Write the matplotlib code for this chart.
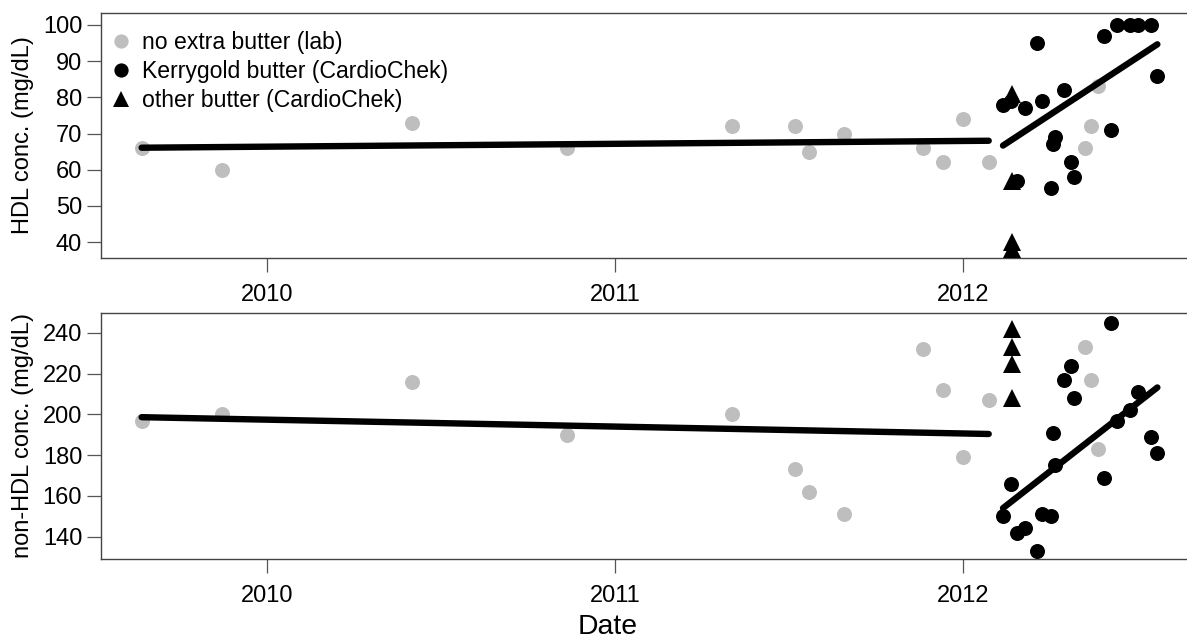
import numpy as np
import matplotlib
matplotlib.use('Agg')
import matplotlib.pyplot as plt
import matplotlib.dates as mdates

plt.rcParams['font.family'] = ['Liberation Sans', 'DejaVu Sans']

# Lab measurements (no extra butter)
lab_dates = ['2009-08-22', '2009-11-14', '2010-06-02', '2010-11-11', '2011-05-04',
             '2011-07-09', '2011-07-23', '2011-08-29', '2011-11-20', '2011-12-11',
             '2012-01-01', '2012-01-28', '2012-05-08', '2012-05-14', '2012-05-22']
lab_hdl = [66, 60, 73, 66, 72, 72, 65, 70, 66, 62, 74, 62, 66, 72, 83]
lab_nonhdl = [197, 200, 216, 190, 200, 173, 162, 151, 232, 212, 179, 207, 233, 217, 183]

# Kerrygold butter (CardioChek)
kerry_dates = ['2012-02-12', '2012-02-20', '2012-02-27', '2012-03-06', '2012-03-19',
               '2012-03-24', '2012-04-02', '2012-04-04', '2012-04-07', '2012-04-16',
               '2012-04-23', '2012-04-26', '2012-05-28', '2012-06-04', '2012-06-11',
               '2012-06-24', '2012-07-03', '2012-07-16', '2012-07-23']
kerry_hdl = [78, 79, 57, 77, 95, 79, 55, 67, 69, 82, 62, 58, 97, 71, 100, 100, 100, 100, 86]
kerry_nonhdl = [150, 166, 142, 144, 133, 151, 150, 191, 175, 217, 224, 208, 169, 245,
                197, 202, 211, 189, 181]

# other butter (CardioChek)
other_dates = ['2012-02-21', '2012-02-21', '2012-02-21', '2012-02-21']
other_hdl = [81, 57, 40, 38]
other_nonhdl = [242, 233, 225, 208]

lab_x = mdates.date2num(np.array(lab_dates, dtype='datetime64[D]'))
kerry_x = mdates.date2num(np.array(kerry_dates, dtype='datetime64[D]'))
other_x = mdates.date2num(np.array(other_dates, dtype='datetime64[D]'))

# baseline = lab values before the butter period
base = lab_x < kerry_x.min()

grey = '#bebebe'
W, H = 1187, 641
fig = plt.figure(figsize=(W / 100, H / 100), dpi=100)
ax1 = fig.add_axes([101 / W, 1 - 258 / H, 1097 / W, 245 / H])
ax2 = fig.add_axes([101 / W, 1 - 559 / H, 1097 / W, 246 / H])

all_x = np.concatenate([lab_x, kerry_x, other_x])
span = all_x.max() - all_x.min()
x_lim = (all_x.min() - 0.04 * span, all_x.max() + 0.04 * span)


def trend(ax, x, y):
    k, b = np.polyfit(x, y, 1)
    xs = np.array([x.min(), x.max()])
    ax.plot(xs, k * xs + b, color='black', lw=4.6, solid_capstyle='round', zorder=5)


panels = [(ax1, lab_hdl, kerry_hdl, other_hdl, 'HDL conc. (mg/dL)', (35.6, 103.3), np.arange(40, 101, 10)),
          (ax2, lab_nonhdl, kerry_nonhdl, other_nonhdl, 'non-HDL conc. (mg/dL)', (129.0, 249.8),
           np.arange(140, 241, 20))]

for ax, lab, kerry, other, ylab, ylim, yticks in panels:
    lab = np.array(lab)
    kerry = np.array(kerry)
    h1, = ax.plot(lab_x, lab, 'o', color=grey, ms=10.8, mew=0, zorder=3)
    h2, = ax.plot(kerry_x, kerry, 'o', color='black', ms=10.8, mew=0, zorder=3)
    h3, = ax.plot(other_x, other, '^', color='black', ms=12.5, mew=0, zorder=4)
    trend(ax, lab_x[base], lab[base])
    trend(ax, kerry_x, kerry)

    ax.set_xlim(x_lim)
    ax.set_ylim(ylim)
    ax.set_yticks(yticks)
    ax.xaxis.set_major_locator(mdates.YearLocator())
    ax.xaxis.set_major_formatter(mdates.DateFormatter('%Y'))
    ax.tick_params(axis='both', direction='out', length=10, width=0.9, color='#555555',
                   labelsize=17)
    ax.tick_params(axis='x', pad=8.5)
    ax.tick_params(axis='y', pad=3.5)
    for s in ax.spines.values():
        s.set_color('#444444')
        s.set_linewidth(1.0)
    ax.set_ylabel(ylab, fontsize=17)
    ax.yaxis.set_label_coords(-0.061, 0.5)

    if ax is ax1:
        ax.legend([h1, h2, h3],
                  ['no extra butter (lab)', 'Kerrygold butter (CardioChek)', 'other butter (CardioChek)'],
                  loc='upper left', bbox_to_anchor=(0.0075, 0.927), frameon=False, fontsize=16.6,
                  handlelength=1.0, handletextpad=0.42, labelspacing=0.26, borderpad=0,
                  borderaxespad=0, markerscale=0.95)

fig.text(608 / W, 0.5 / H, 'Date', ha='center', va='bottom', fontsize=20.4)

fig.savefig('out.png', dpi=100)
